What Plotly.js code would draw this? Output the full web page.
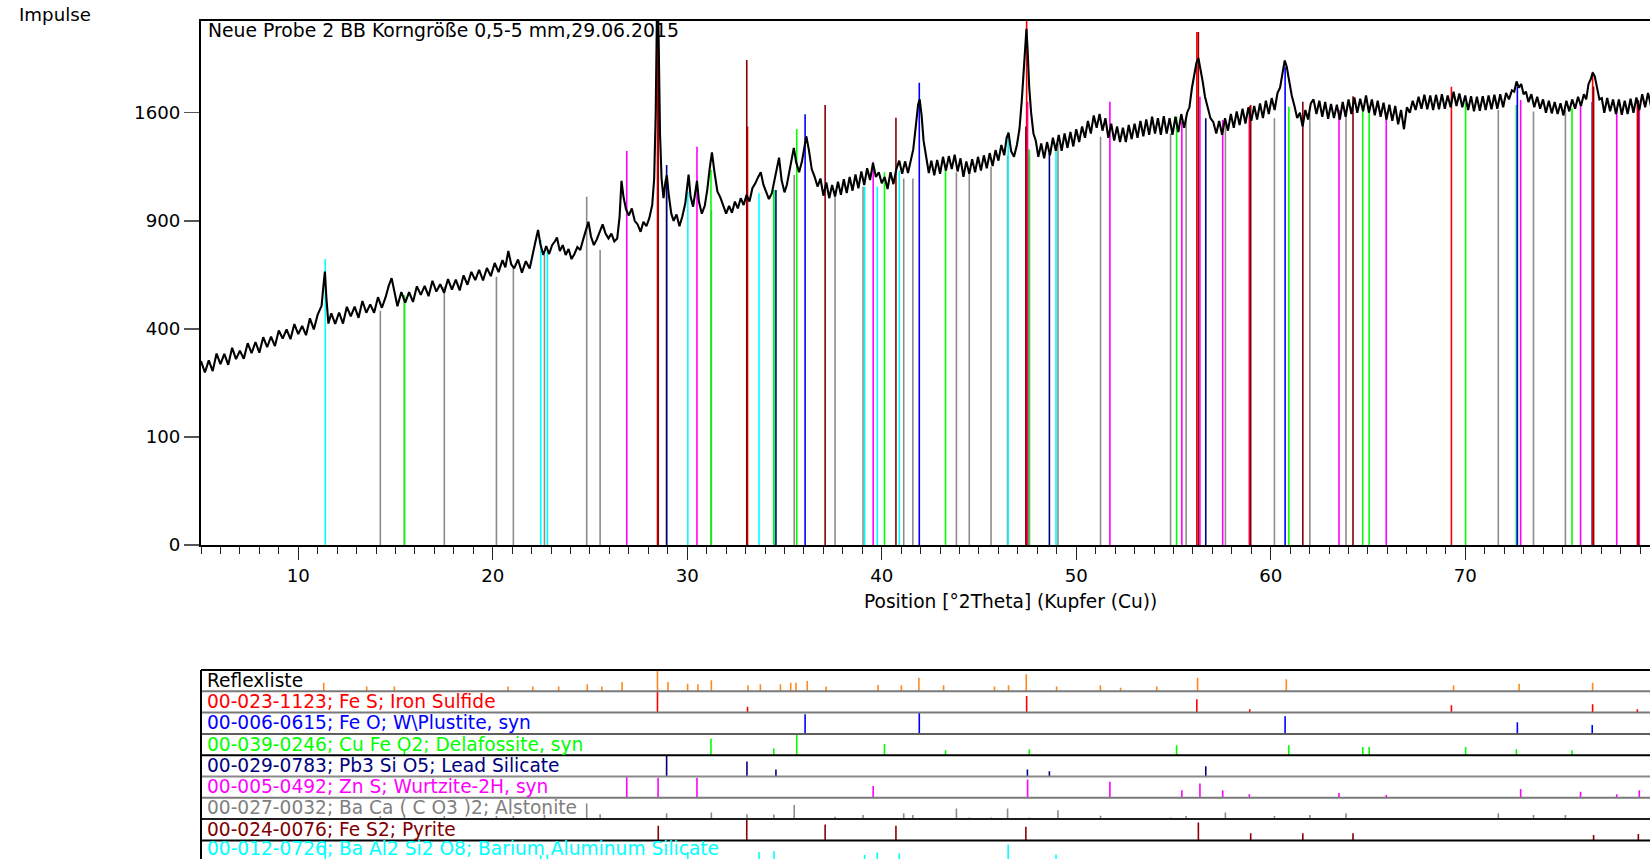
<!DOCTYPE html>
<html>
<head>
<meta charset="utf-8">
<script src="https://cdn.plot.ly/plotly-3.0.1.min.js"></script>
<style>
  html, body { margin: 0; padding: 0; background: #fff; overflow: hidden; }
  #chart { width: 1650px; height: 859px; }
</style>
</head>
<body>
<div id="chart"></div>
<script>
// ---------------- measured scan (°2Theta, counts) ----------------
const twoTheta = [
  5.0,5.2,5.4,5.6,5.8,6.0,6.2,6.4,6.6,6.8,
  7.0,7.2,7.4,7.6,7.8,8.0,8.2,8.4,8.6,8.8,
  9.0,9.2,9.4,9.6,9.8,10.0,10.2,10.4,10.6,10.8,
  11.0,11.2,11.3,11.37,11.45,11.55,11.7,11.9,12.1,12.3,
  12.5,12.7,12.9,13.1,13.3,13.5,13.7,13.9,14.1,14.3,
  14.5,14.65,14.8,14.95,15.1,15.3,15.5,15.7,15.9,16.1,
  16.3,16.5,16.7,16.9,17.1,17.3,17.5,17.7,17.9,18.1,
  18.3,18.5,18.7,18.9,19.1,19.3,19.5,19.7,19.9,20.1,
  20.3,20.5,20.65,20.8,20.95,21.1,21.3,21.5,21.7,21.9,
  22.05,22.2,22.33,22.45,22.6,22.75,22.9,23.05,23.2,23.3,
  23.45,23.6,23.75,23.9,24.05,24.2,24.35,24.5,24.65,24.8,
  24.92,25.05,25.2,25.35,25.5,25.65,25.8,25.95,26.1,26.25,
  26.4,26.52,26.62,26.72,26.85,27.0,27.15,27.3,27.45,27.6,
  27.75,27.9,28.05,28.2,28.3,28.38,28.44,28.48,28.53,28.6,
  28.68,28.78,28.88,28.95,29.05,29.18,29.3,29.45,29.6,29.75,
  29.9,30.0,30.07,30.17,30.3,30.42,30.5,30.6,30.75,30.9,
  31.03,31.15,31.27,31.4,31.55,31.7,31.85,32.0,32.15,32.3,
  32.45,32.6,32.75,32.9,33.05,33.2,33.35,33.5,33.65,33.78,
  33.92,34.07,34.2,34.35,34.5,34.62,34.72,34.85,35.0,35.12,
  35.25,35.38,35.48,35.6,35.75,35.9,36.02,36.12,36.25,36.4,
  36.55,36.7,36.85,37.0,37.15,37.3,37.45,37.6,37.75,37.9,
  38.05,38.2,38.35,38.5,38.65,38.8,38.95,39.1,39.25,39.4,
  39.55,39.7,39.85,40.0,40.15,40.3,40.45,40.6,40.75,40.9,
  41.05,41.2,41.35,41.5,41.62,41.75,41.87,41.95,42.05,42.15,
  42.28,42.42,42.55,42.7,42.85,43.0,43.15,43.3,43.45,43.6,
  43.75,43.9,44.05,44.2,44.35,44.5,44.65,44.8,44.95,45.1,
  45.25,45.4,45.55,45.7,45.85,46.0,46.15,46.3,46.42,46.52,
  46.65,46.8,46.95,47.08,47.2,47.3,47.38,47.44,47.5,47.58,
  47.68,47.8,47.92,48.05,48.2,48.35,48.5,48.65,48.8,48.95,
  49.1,49.25,49.4,49.55,49.7,49.85,50.0,50.15,50.3,50.45,
  50.6,50.75,50.9,51.05,51.2,51.35,51.5,51.65,51.8,51.95,
  52.1,52.25,52.4,52.55,52.7,52.85,53.0,53.15,53.3,53.45,
  53.6,53.75,53.9,54.05,54.2,54.35,54.5,54.65,54.8,54.95,
  55.1,55.25,55.4,55.55,55.7,55.82,55.95,56.07,56.18,56.28,
  56.38,56.5,56.62,56.75,56.9,57.05,57.2,57.35,57.5,57.65,
  57.8,57.95,58.1,58.25,58.4,58.55,58.7,58.85,59.0,59.15,
  59.3,59.45,59.6,59.75,59.9,60.05,60.2,60.35,60.48,60.6,
  60.72,60.82,60.95,61.08,61.22,61.36,61.5,61.64,61.78,61.92,
  62.06,62.2,62.35,62.5,62.65,62.8,62.95,63.1,63.25,63.4,
  63.55,63.7,63.85,64.0,64.15,64.3,64.45,64.6,64.75,64.9,
  65.05,65.2,65.35,65.5,65.65,65.8,65.95,66.1,66.25,66.4,
  66.55,66.7,66.85,67.0,67.15,67.3,67.45,67.6,67.75,67.9,
  68.05,68.2,68.35,68.5,68.65,68.8,68.95,69.1,69.25,69.4,
  69.55,69.7,69.85,70.0,70.15,70.3,70.45,70.6,70.75,70.9,
  71.05,71.2,71.35,71.5,71.65,71.8,71.95,72.1,72.25,72.4,
  72.52,72.64,72.76,72.88,73.0,73.12,73.25,73.4,73.55,73.7,
  73.85,74.0,74.15,74.3,74.45,74.6,74.75,74.9,75.05,75.2,
  75.35,75.5,75.65,75.8,75.95,76.1,76.22,76.34,76.46,76.56,
  76.66,76.78,76.9,77.02,77.15,77.3,77.45,77.6,77.75,77.9,
  78.05,78.2,78.35,78.5,78.65,78.8,78.95,79.1,79.25,79.4,
  79.55,79.7,79.85,80.0
];
const counts = [
  290,255,292,259,314,280,313,278,333,296,
  323,297,349,315,353,317,370,335,372,339,
  394,365,398,363,418,381,411,377,440,398,
  455,490,580,640,520,420,460,419,463,420,
  486,448,487,442,510,462,496,462,526,482,
  528,575,610,540,488,548,503,548,506,573,
  536,575,530,598,550,582,545,606,559,603,
  555,623,580,639,601,648,600,657,619,681,
  638,695,660,740,675,655,698,635,690,655,
  730,790,850,775,720,765,725,770,790,810,
  740,770,720,750,700,725,760,745,800,850,
  895,815,770,800,845,880,830,805,830,790,
  805,920,1135,1040,965,930,970,900,880,840,
  895,870,915,990,1150,1600,2400,2600,2200,1450,
  1150,1030,1130,1170,1050,940,900,935,870,925,
  1000,1100,1175,1040,980,1070,1135,1010,940,985,
  1080,1210,1320,1190,1070,1035,980,940,985,945,
  1010,970,1030,990,1050,1010,1090,1120,1160,1190,
  1110,1070,1025,1060,1150,1240,1285,1140,1065,1110,
  1200,1290,1350,1255,1190,1260,1370,1430,1340,1210,
  1160,1100,1150,1045,1125,1030,1110,1040,1130,1050,
  1145,1060,1160,1075,1175,1090,1195,1110,1215,1140,
  1250,1160,1190,1120,1160,1085,1190,1115,1210,1265,
  1180,1260,1185,1265,1340,1500,1660,1700,1580,1400,
  1280,1185,1265,1170,1270,1180,1290,1200,1295,1210,
  1305,1195,1280,1160,1260,1180,1275,1190,1290,1200,
  1300,1215,1315,1230,1335,1265,1370,1300,1420,1455,
  1330,1290,1370,1480,1690,1950,2200,2280,2100,1800,
  1600,1450,1400,1290,1380,1280,1390,1300,1420,1330,
  1440,1330,1450,1350,1460,1360,1480,1390,1500,1420,
  1540,1450,1580,1490,1590,1470,1560,1420,1520,1400,
  1500,1390,1490,1390,1510,1410,1520,1420,1540,1430,
  1550,1440,1570,1450,1560,1440,1575,1450,1560,1440,
  1570,1460,1590,1490,1600,1640,1790,1900,1990,2030,
  1950,1840,1720,1640,1560,1530,1450,1540,1440,1560,
  1470,1590,1490,1610,1510,1630,1520,1640,1540,1650,
  1550,1670,1560,1690,1590,1710,1620,1750,1790,1900,
  2010,1960,1830,1730,1650,1560,1600,1500,1620,1550,
  1670,1700,1590,1690,1570,1680,1555,1665,1560,1660,
  1550,1680,1570,1700,1590,1715,1600,1705,1610,1730,
  1600,1700,1580,1690,1570,1675,1550,1660,1540,1650,
  1515,1620,1480,1640,1600,1690,1620,1720,1630,1735,
  1625,1730,1620,1735,1625,1740,1630,1730,1640,1760,
  1650,1745,1640,1730,1620,1725,1610,1720,1615,1725,
  1620,1730,1625,1735,1630,1740,1640,1750,1700,1770,
  1760,1840,1790,1820,1740,1760,1680,1740,1640,1720,
  1630,1700,1600,1690,1595,1680,1590,1670,1580,1690,
  1610,1700,1630,1720,1650,1740,1700,1820,1860,1910,
  1880,1790,1700,1710,1600,1710,1610,1700,1590,1700,
  1585,1690,1590,1705,1600,1715,1620,1740,1640,1750,
  1650,1735,1640,1720
];

// ---------------- axis ticks ----------------
const yTickCounts = [0, 100, 400, 900, 1600];
const xTickVals = [10, 20, 30, 40, 50, 60, 70];

// ---------------- reference patterns ----------------
// position (°2Theta), stick top in main plot (counts), relative intensity (row panel)
const pkPos  = [11.31,13.52,14.94,20.79,22.06,23.39,24.86,25.61,26.65,28.47,29.01,30.02,30.55,31.24,33.12,33.76,34.79,35.32,35.59,36.17,37.14,39.81,41.01,41.91,43.18,45.8,46.52,47.43,48.99,51.24,52.28,54.14,56.24,60.8,69.4,72.77,76.55];
const pkRel  = [0.4,0.23,0.23,0.23,0.23,0.23,0.33,0.23,0.44,1.0,0.44,0.36,0.33,0.52,0.28,0.33,0.33,0.4,0.4,0.48,0.23,0.3,0.28,0.64,0.28,0.23,0.28,0.8,0.23,0.28,0.17,0.23,0.64,0.56,0.28,0.36,0.4];

const fesPos  = [28.47,33.1,47.45,56.2,58.92,69.29,76.55,78.85];
const fesMain = [2600,1500,2600,2253,1650,1798,1918,1695];
const fesRel  = [1.0,0.27,0.78,0.63,0.16,0.34,0.39,0.16];

const feoPos  = [36.06,41.93,60.74,72.68,76.53];
const feoMain = [1588,1830,1959,1798,1680];
const feoRel  = [0.92,1.0,0.83,0.55,0.42];

const cufePos  = [15.46,31.22,34.45,35.63,40.14,43.28,47.59,55.16,60.93,64.73,65.06,70.02,72.63,75.49];
const cufeMain = [535,1204,1079,1481,1190,1215,1340,1571,1645,1650,1650,1675,1657,1632];
const cufeRel  = [0.25,0.78,0.31,1.0,0.52,0.23,0.28,0.47,0.47,0.39,0.39,0.38,0.28,0.23];

const pbPos  = [28.94,33.07,34.56,47.49,48.62,56.66];
const pbMain = [1236,1450,1079,1340,1314,1559];
const pbRel  = [1.0,0.7,0.33,0.33,0.25,0.48];

const znsPos  = [26.89,28.5,30.5,39.56,47.5,51.73,55.43,56.36,57.53,58.9,63.51,65.94,72.85,75.93,77.79,78.95];
const znsMain = [1329,1314,1358,1258,1683,1683,1534,1720,1547,1600,1620,1600,1695,1657,1632,1650];
const znsRel  = [0.98,0.94,0.94,0.55,0.86,0.75,0.36,0.67,0.36,0.17,0.23,0.13,0.41,0.28,0.17,0.36];

const bacaPos  = [14.22,15.46,17.51,20.19,21.06,22.66,24.83,25.52,28.94,31.24,33.07,34.45,35.5,37.6,39.04,41.13,41.6,43.84,44.5,45.62,46.47,47.59,49.06,51.25,54.85,55.65,57.67,60.19,62.01,63.87,71.7,73.51,75.15];
const bacaMain = [470,528,571,616,656,720,1039,745,1150,961,1000,1000,1172,1039,1099,1150,1150,1190,1200,1225,1300,1300,1382,1427,1451,1571,1547,1559,1595,1595,1620,1608,1620];
const bacaRel  = [0.15,0.2,0.15,0.15,0.15,0.2,0.73,0.23,0.27,0.31,0.23,0.22,0.66,0.11,0.19,0.27,0.19,0.5,0.08,0.08,0.5,0.08,0.42,0.16,0.08,0.14,0.31,0.14,0.19,0.27,0.27,0.19,0.19];

const fes2Pos  = [28.51,33.06,37.09,40.73,47.41,56.28,58.97,61.65,64.23,76.6,78.9];
const fes2Main = [2000,2013,1657,1563,1500,2253,1657,1683,1725,1800,1695];
const fes2Rel  = [0.69,1.0,0.75,0.69,0.64,0.84,0.34,0.34,0.34,0.25,0.3];

const basiPos  = [11.39,22.47,22.81,30.03,33.69,34.46,39.12,39.77,40.9,46.5,48.96];
const basiMain = [700,797,737,1069,1059,1079,1099,1100,1200,1462,1382];
const basiRel  = [1.0,0.3,0.34,0.45,0.46,0.49,0.31,0.43,0.39,0.81,0.34];

const rowLabels = [
  'Reflexliste',
  '00-023-1123; Fe S; Iron Sulfide',
  '00-006-0615; Fe O; W\\Plustite, syn',
  '00-039-0246; Cu Fe O2; Delafossite, syn',
  '00-029-0783; Pb3 Si O5; Lead Silicate',
  '00-005-0492; Zn S; Wurtzite-2H, syn',
  '00-027-0032; Ba Ca ( C O3 )2; Alstonite',
  '00-024-0076; Fe S2; Pyrite',
  '00-012-0726; Ba Al2 Si2 O8; Barium Aluminum Silicate'
];

// ---------------- styling ----------------
const W = 1650, H = 859;
const FONT = 'DejaVu Sans, sans-serif';
const C = {
  peak: '#FF8A1C', fes: '#FF0000', feo: '#0000FF', cufe: '#00FF00', pb: '#000080',
  zns: '#FF00FF', baca: '#8C8C8C', fes2: '#8B0000', basi: '#00FFFF'
};
const rowColors = ['#000000', C.fes, C.feo, C.cufe, C.pb, C.zns, '#808080', '#800000', C.basi];

const phases = [
  {pos: pkPos,   rel: pkRel,   main: null,     color: C.peak},
  {pos: fesPos,  rel: fesRel,  main: fesMain,  color: C.fes},
  {pos: feoPos,  rel: feoRel,  main: feoMain,  color: C.feo},
  {pos: cufePos, rel: cufeRel, main: cufeMain, color: C.cufe},
  {pos: pbPos,   rel: pbRel,   main: pbMain,   color: C.pb},
  {pos: znsPos,  rel: znsRel,  main: znsMain,  color: C.zns},
  {pos: bacaPos, rel: bacaRel, main: bacaMain, color: C.baca},
  {pos: fes2Pos, rel: fes2Rel, main: fes2Main, color: C.fes2},
  {pos: basiPos, rel: basiRel, main: basiMain, color: C.basi}
];

function sticks(pos, h, f) {
  const x = [], y = [];
  pos.forEach((p, i) => { x.push(p, p, null); y.push(0, f(h[i]), null); });
  return {x, y};
}

// main plot geometry (pixels)
const MAIN_TOP = 20.7, MAIN_BOT = 545.1, SQRT_PX = 10.81;
const TABLE_TOP = 670, ROW_H = 21.3;
const py = Y => 1 - Y / H;

const traces = [];
// reference sticks in the main plot (drawn in this order)
const mainOrder = [6, 8, 3, 4, 5, 2, 1, 7];
mainOrder.forEach(k => {
  const ph = phases[k];
  const s = sticks(ph.pos, ph.main, Math.sqrt);
  traces.push({x: s.x, y: s.y, type: 'scatter', mode: 'lines', xaxis: 'x', yaxis: 'y',
    line: {color: ph.color, width: 1.6}, hoverinfo: 'skip', showlegend: false});
});
// measured scan
traces.push({x: twoTheta, y: counts.map(Math.sqrt), type: 'scatter', mode: 'lines',
  xaxis: 'x', yaxis: 'y', line: {color: '#000000', width: 2.1}, hoverinfo: 'skip', showlegend: false});

// row sticks
const layoutExtra = {};
phases.forEach((ph, k) => {
  const topY = TABLE_TOP + ROW_H * k, botY = topY + ROW_H;
  const lo = Math.max(0, py(botY)), hi = py(topY);
  const r0 = botY > H ? (botY - H) / ROW_H : 0;
  layoutExtra['yaxis' + (k + 2)] = {domain: [lo, hi], range: [r0, 1], visible: false,
    showgrid: false, zeroline: false, fixedrange: true, anchor: 'x'};
  const s = sticks(ph.pos, ph.rel, v => v);
  traces.push({x: s.x, y: s.y, type: 'scatter', mode: 'lines', xaxis: 'x', yaxis: 'y' + (k + 2),
    line: {color: ph.color, width: 1.6}, hoverinfo: 'skip', showlegend: false});
});

const sepColors = ['#000000', '#7A7A7A', '#7A7A7A', '#5E5E5E', '#000000', '#8A8A8A', '#7A7A7A', '#1E1E1E', '#000000'];
const shapes = [];
rowLabels.forEach((_, k) => {
  const Y = TABLE_TOP + ROW_H * k;
  shapes.push({type: 'line', xref: 'paper', yref: 'paper', x0: 0, x1: 1, y0: py(Y), y1: py(Y),
    line: {color: sepColors[k], width: 2}});
});
shapes.push({type: 'line', xref: 'paper', yref: 'paper', x0: 0, x1: 0, y0: 0, y1: py(TABLE_TOP),
  line: {color: '#000000', width: 2}});

const annotations = [
  {text: 'Impulse', xref: 'paper', yref: 'paper', x: (17 - 201) / (W - 201), y: py(14),
   xanchor: 'left', yanchor: 'middle', showarrow: false, font: {family: FONT, size: 18.2, color: '#000'}},
  {text: 'Neue Probe 2 BB Korngröße 0,5-5 mm,29.06.2015', xref: 'paper', yref: 'paper', x: 0, xshift: 5,
   y: py(30), xanchor: 'left', yanchor: 'middle', showarrow: false, font: {family: FONT, size: 18.8, color: '#000'}},
  {text: 'Position [°2Theta] (Kupfer (Cu))', xref: 'paper', yref: 'paper', x: (1010.3 - 201) / (W - 201),
   y: py(601.5), xanchor: 'center', yanchor: 'middle', showarrow: false, font: {family: FONT, size: 18.6, color: '#000'}}
];
rowLabels.forEach((t, k) => {
  const last = k === rowLabels.length - 1;
  annotations.push({text: t, xref: 'paper', yref: 'paper', x: 0, xshift: 4,
    y: py(TABLE_TOP + ROW_H * k + ROW_H / 2 - (last ? 2.5 : 0.5)), xanchor: 'left', yanchor: 'middle', showarrow: false,
    font: {family: FONT, size: 18.6, color: rowColors[k]}});
});

const layout = Object.assign({
  width: W, height: H,
  margin: {l: 201, r: 0, t: 0, b: 0, pad: 0},
  paper_bgcolor: '#ffffff', plot_bgcolor: 'rgba(0,0,0,0)',
  showlegend: false, hovermode: false,
  font: {family: FONT, size: 18, color: '#000'},
  xaxis: {
    domain: [0, 1], range: [5.0, 79.5], anchor: 'y',
    tickmode: 'array', tickvals: xTickVals, ticktext: xTickVals.map(String),
    ticks: 'outside', ticklen: 13, tickwidth: 1, tickcolor: '#222',
    minor: {tickmode: 'linear', tick0: 0, dtick: 1, ticks: 'outside', ticklen: 7, tickwidth: 1, tickcolor: '#222', showgrid: false},
    showline: true, linecolor: '#000', linewidth: 2, mirror: true,
    showgrid: false, zeroline: false, fixedrange: true,
    tickfont: {family: FONT, size: 18.2, color: '#000'}
  },
  yaxis: {
    domain: [py(MAIN_BOT), py(MAIN_TOP)], range: [0, (MAIN_BOT - MAIN_TOP) / SQRT_PX],
    tickmode: 'array', tickvals: yTickCounts.map(Math.sqrt), ticktext: yTickCounts.map(String),
    ticks: 'outside', ticklen: 15, tickwidth: 1.5, tickcolor: '#555',
    showline: true, linecolor: '#000', linewidth: 2,
    showgrid: false, zeroline: false, fixedrange: true,
    tickfont: {family: FONT, size: 18.2, color: '#000'}
  },
  shapes: shapes,
  annotations: annotations
}, layoutExtra);

Plotly.newPlot('chart', traces, layout, {displayModeBar: false, staticPlot: true});
</script>
</body>
</html>
